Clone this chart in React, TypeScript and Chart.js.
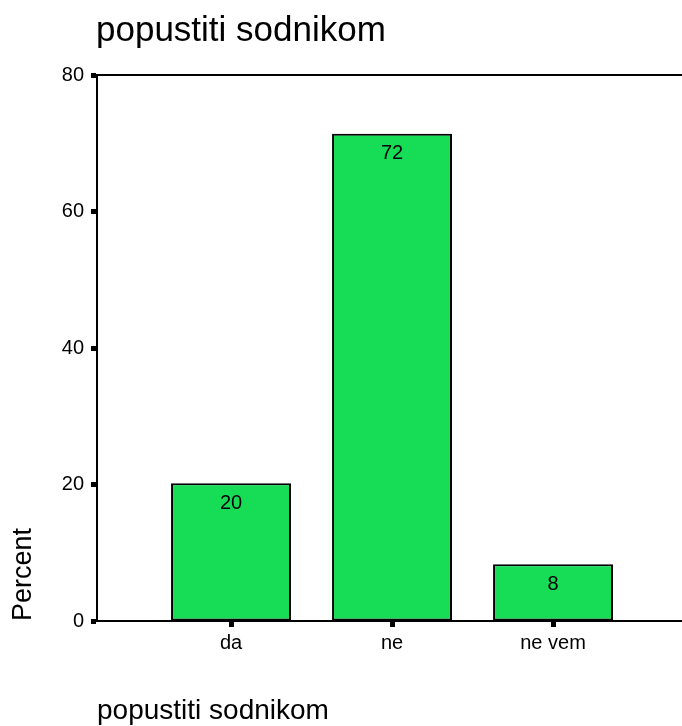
import React, { useEffect, useRef } from "react";
import { Chart, registerables } from "chart.js";

Chart.register(...registerables);

const TITLE = "popustiti sodnikom";
const X_TITLE = "popustiti sodnikom";
const Y_TITLE = "Percent";
const CATEGORIES = ["da", "ne", "ne vem"];
const PERCENTS = [20.2, 71.4, 8.3];
const BAR_LABELS = ["20", "72", "8"];
const Y_TICKS = [0, 20, 40, 60, 80];

const FONT = "'Liberation Sans', Arial, Helvetica, sans-serif";
const GREEN = "#17dc55";

export default function App() {
  const ref = useRef<HTMLCanvasElement | null>(null);

  useEffect(() => {
    if (!ref.current) return;

    const decor = {
      id: "decor",
      afterDraw(chart: any) {
        const { ctx, chartArea } = chart;
        ctx.save();
        // top frame line
        ctx.strokeStyle = "#000";
        ctx.lineWidth = 2;
        ctx.beginPath();
        ctx.moveTo(chartArea.left, chartArea.top);
        ctx.lineTo(chartArea.right, chartArea.top);
        ctx.stroke();
        // title
        ctx.fillStyle = "#000";
        ctx.font = `35px ${FONT}`;
        ctx.textAlign = "left";
        ctx.textBaseline = "alphabetic";
        ctx.fillText(TITLE, chartArea.left - 1, 41);
        // bar labels
        const meta = chart.getDatasetMeta(0);
        ctx.font = `20px ${FONT}`;
        ctx.textAlign = "center";
        ctx.textBaseline = "middle";
        meta.data.forEach((bar: any, i: number) => {
          ctx.fillText(BAR_LABELS[i], bar.x, bar.y + 20);
        });
        ctx.restore();
      },
    };

    const chart = new Chart(ref.current, {
      type: "bar",
      data: {
        datasets: [
          {
            data: CATEGORIES.map((_, i) => ({ x: i + 1, y: PERCENTS[i] })),
            backgroundColor: GREEN,
            borderColor: "#000",
            borderWidth: 2,
            borderSkipped: false,
            barPercentage: 0.745,
            categoryPercentage: 1,
          },
        ],
      },
      options: {
        animation: false,
        responsive: false,
        devicePixelRatio: 1,
        layout: { padding: { top: 75, left: 0, right: 0, bottom: 0 } },
        plugins: {
          legend: { display: false },
          tooltip: { enabled: false },
          title: { display: false },
        },
        scales: {
          x: {
            type: "linear",
            offset: false,
            min: 0.1677,
            max: 3.801,
            afterFit: (s: any) => {
              s.height = 105;
            },
            afterBuildTicks: (s: any) => {
              s.ticks = CATEGORIES.map((_, i) => ({ value: i + 1 }));
            },
            border: { display: true, color: "#000", width: 2 },
            grid: {
              offset: false,
              drawOnChartArea: false,
              drawTicks: true,
              tickLength: 6,
              tickWidth: 5,
              tickColor: "#000",
            },
            ticks: {
              color: "#000",
              font: { family: FONT, size: 20 },
              padding: 4,
              maxRotation: 0,
              autoSkip: false,
              callback: (v: any) => CATEGORIES[Math.round(Number(v)) - 1] ?? "",
            },
            title: {
              display: true,
              text: X_TITLE,
              align: "start",
              color: "#000",
              font: { family: FONT, size: 28, lineHeight: 1 },
              padding: { top: 0, bottom: 1 },
            },
          },
          y: {
            type: "linear",
            min: Y_TICKS[0],
            max: Y_TICKS[Y_TICKS.length - 1],
            afterFit: (s: any) => {
              s.width = 97;
            },
            afterBuildTicks: (s: any) => {
              s.ticks = Y_TICKS.map((v) => ({ value: v }));
            },
            border: { display: true, color: "#000", width: 2 },
            grid: {
              drawOnChartArea: false,
              drawTicks: true,
              tickLength: 6,
              tickWidth: 5,
              tickColor: "#000",
            },
            ticks: {
              color: "#000",
              font: { family: FONT, size: 20 },
              padding: 7,
            },
            title: {
              display: true,
              text: Y_TITLE,
              align: "start",
              color: "#000",
              font: { family: FONT, size: 27 },
              padding: { top: 7, bottom: 0 },
            },
          },
        },
      },
      plugins: [decor],
    } as any);

    return () => chart.destroy();
  }, []);

  return (
    <div style={{ position: "fixed", left: 0, top: 0, width: 682, height: 726, background: "#fff" }}>
      <canvas ref={ref} width={682} height={726} style={{ display: "block" }} />
    </div>
  );
}
